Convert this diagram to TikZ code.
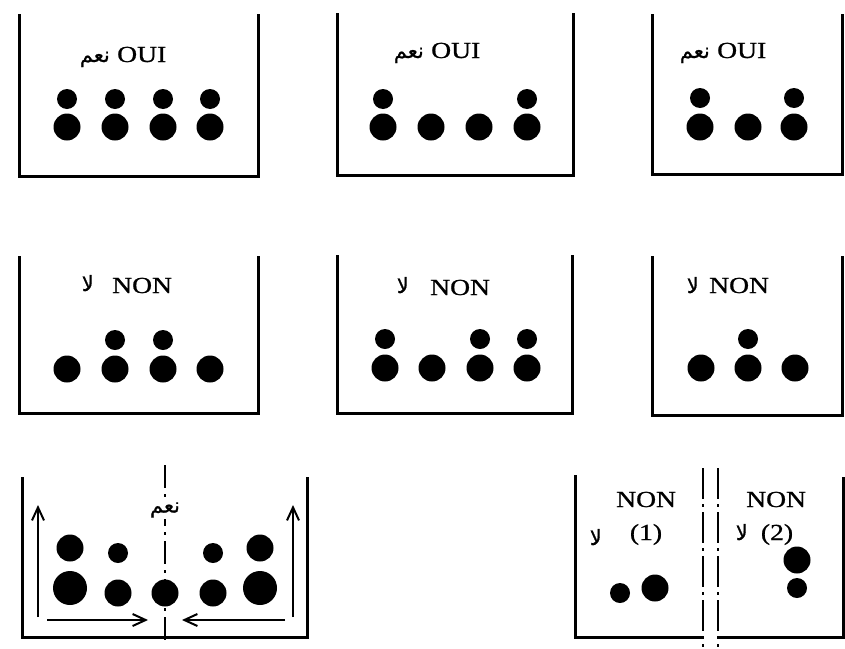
\documentclass[tikz,border=0pt]{standalone}
\usepackage{fontspec}
\usepackage{graphicx}
\setmainfont{Liberation Serif}[FakeBold=0.8]
\newfontfamily\arabicfont[Script=Arabic,FakeBold=0.8]{DejaVu Sans}
\TeXXeTstate=1
\usetikzlibrary{arrows.meta}
\newcommand\wide[1]{\scalebox{1.2}[1]{#1}}
\newcommand\arb[1]{{\arabicfont\beginR #1\endR}}
\begin{document}
\begin{tikzpicture}[x=1pt,y=-1pt,
  box/.style={line width=3pt},
  sd/.style={circle,fill=black,inner sep=0pt,minimum size=20pt},
  ld/.style={sd,minimum size=27pt},
  xd/.style={sd,minimum size=34pt},
  lat/.style={font=\fontsize{23}{27}\selectfont,inner sep=0pt,anchor=base west},
  latc/.style={lat,anchor=base},
  ara/.style={font=\fontsize{21}{25}\selectfont,inner sep=0pt,anchor=base east},
  sepline/.style={line width=2.2pt,dash pattern=on 31pt off 5pt on 3pt off 5pt},
  cline/.style={line width=2.2pt,dash pattern=on 23pt off 6pt on 3pt off 6pt},
  arr/.style={line width=2pt,-{Straight Barb[length=13pt,width=12pt,line width=2pt]}}]
\fill[white] (0,0) rectangle (845,648);
\useasboundingbox (0,0) rectangle (845,648);
% ---------- row 1 ----------
\draw[box] (19,14) -- (19,176) -- (258,176) -- (258,14);
\node[ara] (t1a) at (110,62) {\arb{نعم}};
\node[lat] (t1b) at (117,62) {\wide{OUI}};
\foreach \x [count=\i] in {67,115,163,210}{
  \node[sd] (b1s\i) at (\x,99) {};
  \node[ld] (b1l\i) at (\x,127) {};}
\draw[box] (337,13) -- (337,175) -- (573,175) -- (573,13);
\node[ara] (t2a) at (424,58) {\arb{نعم}};
\node[lat] (t2b) at (431,58) {\wide{OUI}};
\node[sd] (b2s1) at (383,99) {};
\node[sd] (b2s2) at (527,99) {};
\foreach \x [count=\i] in {383,431,479,527}{
  \node[ld] (b2l\i) at (\x,127) {};}
\draw[box] (652,14) -- (652,174) -- (842,174) -- (842,14);
\node[ara] (t3a) at (710,58) {\arb{نعم}};
\node[lat] (t3b) at (717,58) {\wide{OUI}};
\node[sd] (b3s1) at (700,98) {};
\node[sd] (b3s2) at (794,98) {};
\foreach \x [count=\i] in {700,748,794}{
  \node[ld] (b3l\i) at (\x,127) {};}
% ---------- row 2 ----------
\draw[box] (19,256) -- (19,413) -- (258,413) -- (258,256);
\node[ara] (t4a) at (94,291) {\arb{لا}};
\node[lat] (t4b) at (112,293) {\wide{NON}};
\node[sd] (b4s1) at (115,340) {};
\node[sd] (b4s2) at (163,340) {};
\foreach \x [count=\i] in {67,115,163,210}{
  \node[ld] (b4l\i) at (\x,369) {};}
\draw[box] (337,255) -- (337,413) -- (572,413) -- (572,255);
\node[ara] (t5a) at (409,293) {\arb{لا}};
\node[lat] (t5b) at (430,295) {\wide{NON}};
\foreach \x [count=\i] in {385,480,527}{
  \node[sd] (b5s\i) at (\x,339) {};}
\foreach \x [count=\i] in {385,432,480,527}{
  \node[ld] (b5l\i) at (\x,368) {};}
\draw[box] (652,256) -- (652,415) -- (842,415) -- (842,256);
\node[ara] (t6a) at (699,293) {\arb{لا}};
\node[lat] (t6b) at (709,293) {\wide{NON}};
\node[sd] (b6s1) at (748,339) {};
\foreach \x [count=\i] in {701,748,795}{
  \node[ld] (b6l\i) at (\x,368) {};}
% ---------- row 3, left ----------
\draw[box] (22,477) -- (22,637) -- (307,637) -- (307,477);
\coordinate (c1) at (165,465);
\coordinate (c2) at (165,642);
\draw[cline] (c1) -- (c2);
\node[font=\fontsize{21}{25}\selectfont,fill=white,inner sep=1pt] (t7a) at (165,510) {\arb{نعم}};
\node[xd] (b7x1) at (70,588) {};
\node[ld] (b7l1) at (70,548) {};
\node[sd] (b7s1) at (118,553) {};
\node[ld] (b7m1) at (118,593) {};
\node[ld] (b7m2) at (165,593) {};
\node[ld] (b7m3) at (213,593) {};
\node[sd] (b7s2) at (213,553) {};
\node[ld] (b7l2) at (260,548) {};
\node[xd] (b7x2) at (260,588) {};
\coordinate (va1) at (38,617);  \coordinate (va2) at (38,505);
\coordinate (vb1) at (293,617); \coordinate (vb2) at (293,505);
\coordinate (ha1) at (47,620);  \coordinate (ha2) at (148,620);
\coordinate (hb1) at (285,620); \coordinate (hb2) at (182,620);
\draw[arr] (va1) -- (va2);
\draw[arr] (vb1) -- (vb2);
\draw[arr] (ha1) -- (ha2);
\draw[arr] (hb1) -- (hb2);
% ---------- row 3, right ----------
\draw[box] (575,475) -- (575,637) -- (703,637);
\draw[box] (718,637) -- (843,637) -- (843,477);
\coordinate (s1a) at (703,468); \coordinate (s1b) at (703,647);
\coordinate (s2a) at (718,468); \coordinate (s2b) at (718,647);
\draw[sepline] (s1a) -- (s1b);
\draw[sepline] (s2a) -- (s2b);
\node[lat] (t8a) at (616,507) {\wide{NON}};
\node[latc] (t8b) at (646,540) {\wide{(1)}};
\node[ara] (t8c) at (602,545) {\arb{لا}};
\node[lat] (t8d) at (746,507) {\wide{NON}};
\node[latc] (t8e) at (777,540) {\wide{(2)}};
\node[ara] (t8f) at (748,540) {\arb{لا}};
\node[sd] (b8s1) at (620,593) {};
\node[ld] (b8l1) at (655,588) {};
\node[ld] (b8l2) at (797,560) {};
\node[sd] (b8s2) at (797,588) {};
\end{tikzpicture}
\end{document}
